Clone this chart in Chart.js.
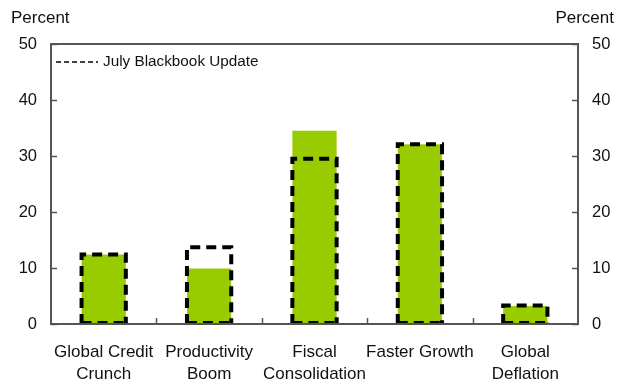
<!DOCTYPE html>
<html>
<head>
<meta charset="utf-8">
<script src="https://cdn.jsdelivr.net/npm/chart.js@4"></script>
<style>
  html, body { margin: 0; padding: 0; background: #fff; }
  #wrap { width: 624px; height: 383px; position: relative; }
</style>
</head>
<body>
<div id="wrap"><canvas id="chart"></canvas></div>
<script>
// ── Data ─────────────────────────────────────────────────────────────
const categories = [
  ['Global Credit', 'Crunch'],
  ['Productivity', 'Boom'],
  ['Fiscal', 'Consolidation'],
  'Faster Growth',
  ['Global', 'Deflation']
]
const currentValues = [12.4, 9.9, 34.5, 32.1, 3.2]
const julyValues = [12.4, 13.7, 29.5, 32.1, 3.3]
const yTicks = [0, 10, 20, 30, 40, 50]

const FONT = 'Liberation Sans, Arial, sans-serif'
const TEXT = '#111'
const FRAME = '#555'

// ── Plugin: frame, inward ticks, dashed bars, legend, titles ─────────
const decor = {
  id: 'decor',
  afterDatasetsDraw(chart) {
    const ctx = chart.ctx
    const meta = chart.getDatasetMeta(1)
    ctx.save()
    ctx.strokeStyle = '#000'
    ctx.lineWidth = 4
    ctx.setLineDash([10, 6])
    meta.data.forEach(bar => {
      const p = bar.getProps(['x', 'y', 'base', 'width'], true)
      const l = p.x - p.width / 2, r = p.x + p.width / 2
      ctx.beginPath()
      ctx.moveTo(l, p.base); ctx.lineTo(l, p.y)
      ctx.lineTo(r, p.y); ctx.lineTo(r, p.base)
      ctx.stroke()
      ctx.beginPath()
      ctx.moveTo(l, p.base - 1); ctx.lineTo(r, p.base - 1)
      ctx.stroke()
    })
    ctx.restore()
  },
  afterDraw(chart) {
    const ctx = chart.ctx
    const a = chart.chartArea
    const x = chart.scales.x, y = chart.scales.y
    ctx.save()
    // frame
    ctx.strokeStyle = FRAME
    ctx.lineWidth = 2
    ctx.strokeRect(a.left, a.top, a.right - a.left, a.bottom - a.top)
    // inward ticks on both y axes
    ctx.lineWidth = 1.5
    yTicks.forEach(v => {
      const py = Math.round(y.getPixelForValue(v)) + 0.5
      ctx.beginPath()
      ctx.moveTo(a.left, py); ctx.lineTo(a.left + 6, py)
      ctx.moveTo(a.right, py); ctx.lineTo(a.right - 6, py)
      ctx.stroke()
    })
    // x ticks between categories
    for (let i = 0; i < categories.length - 1; i++) {
      const px = Math.round((x.getPixelForValue(i) + x.getPixelForValue(i + 1)) / 2) + 0.5
      ctx.beginPath()
      ctx.moveTo(px, a.bottom); ctx.lineTo(px, a.bottom - 6)
      ctx.stroke()
    }
    // axis unit labels
    ctx.fillStyle = TEXT
    ctx.font = '17px ' + FONT
    ctx.textBaseline = 'middle'
    ctx.textAlign = 'left'
    ctx.fillText('Percent', 11, 18)
    ctx.textAlign = 'right'
    ctx.fillText('Percent', 614, 18)
    // legend
    ctx.strokeStyle = '#000'
    ctx.lineWidth = 1.5
    ctx.setLineDash([5, 3])
    ctx.beginPath()
    ctx.moveTo(a.left + 5, 62); ctx.lineTo(a.left + 47, 62)
    ctx.stroke()
    ctx.font = '15.3px ' + FONT
    ctx.textAlign = 'left'
    ctx.fillText('July Blackbook Update', a.left + 52, 62)
    ctx.restore()
  }
}

new Chart(document.getElementById('chart'), {
  type: 'bar',
  data: {
    labels: categories,
    datasets: [
      {
        label: 'Current',
        data: currentValues,
        backgroundColor: '#99cc00',
        borderWidth: 0,
        grouped: false,
        order: 2
      },
      {
        label: 'July Blackbook Update',
        data: julyValues,
        backgroundColor: 'rgba(0,0,0,0)',
        borderWidth: 0,
        grouped: false,
        order: 1
      }
    ]
  },
  options: {
    responsive: true,
    maintainAspectRatio: false,
    animation: false,
    devicePixelRatio: 1,
    categoryPercentage: 1,
    barPercentage: 0.42,
    layout: { padding: { top: 44, left: 0, right: 0, bottom: 0 } },
    plugins: { legend: { display: false }, tooltip: { enabled: false } },
    scales: {
      x: {
        grid: { display: false },
        border: { display: false },
        ticks: {
          color: TEXT,
          font: { family: FONT, size: 17, lineHeight: 1.25 },
          padding: 10,
          maxRotation: 0,
          autoSkip: false
        },
        afterFit: s => { s.height = 59 }
      },
      y: {
        position: 'left',
        min: 0, max: 50,
        grid: { display: false, drawTicks: false },
        border: { display: false },
        ticks: { stepSize: 10, color: TEXT, font: { family: FONT, size: 16.5 }, padding: 14 },
        afterFit: s => { s.width = 51 }
      },
      y2: {
        position: 'right',
        min: 0, max: 50,
        grid: { display: false, drawTicks: false },
        border: { display: false },
        ticks: { stepSize: 10, color: TEXT, font: { family: FONT, size: 16.5 }, padding: 14 },
        afterFit: s => { s.width = 46 }
      }
    }
  },
  plugins: [decor]
})
</script>
</body>
</html>
